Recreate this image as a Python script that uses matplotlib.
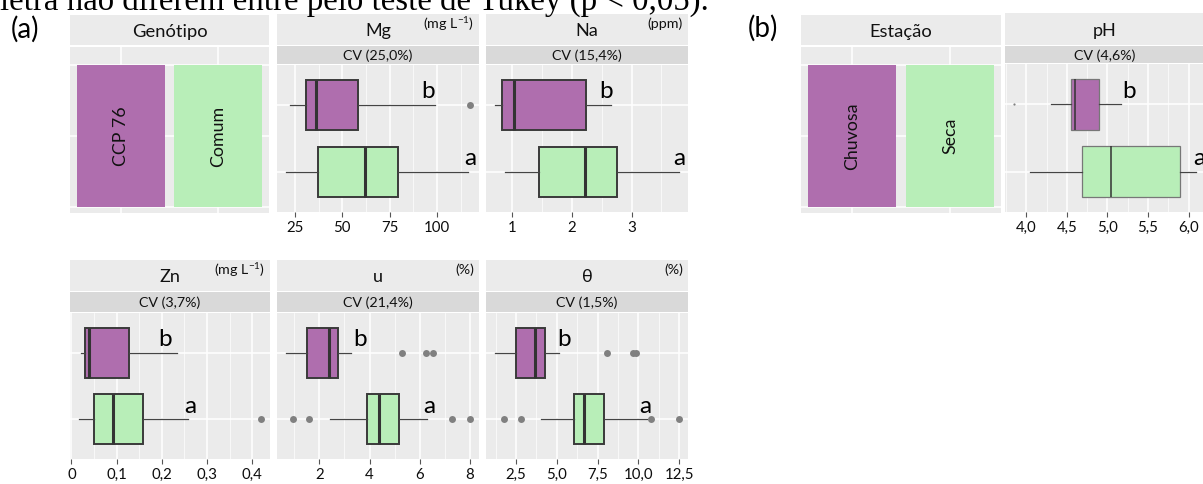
import matplotlib
matplotlib.use('Agg')
import matplotlib.pyplot as plt
from matplotlib.ticker import MultipleLocator, FuncFormatter

plt.rcParams['font.family'] = ['Lato', 'DejaVu Sans']
plt.rcParams['mathtext.fontset'] = 'custom'
plt.rcParams['mathtext.rm'] = 'Lato'
plt.rcParams['mathtext.default'] = 'regular'

# ---- data ----
genotipos = ['CCP 76', 'Comum']
estacoes = ['Chuvosa', 'Seca']
letras = ['b', 'a']

variaveis = ['Mg', 'Na', 'Zn', 'u', 'θ']
unidades = ['(mg L$^{-1}$)', '(ppm)', '(mg L$^{-1}$)', '(%)', '(%)']
cvs = ['CV (25,0%)', 'CV (15,4%)', 'CV (3,7%)', 'CV (21,4%)', 'CV (1,5%)']

# [whisker low, Q1, median, Q3, whisker high]
mg_ccp = [22.2, 30.7, 36.0, 58.5, 98.6]
mg_comum = [20.4, 37.4, 61.7, 79.1, 116.3]
mg_ccp_out = [117.2]
mg_comum_out = []

na_ccp = [0.72, 0.83, 1.04, 2.24, 2.65]
na_comum = [0.89, 1.46, 2.22, 2.75, 3.79]
na_ccp_out = []
na_comum_out = []

zn_ccp = [0.021, 0.030, 0.039, 0.128, 0.234]
zn_comum = [0.017, 0.050, 0.092, 0.159, 0.258]
zn_ccp_out = []
zn_comum_out = [0.419]

u_ccp = [0.68, 1.49, 2.40, 2.76, 3.25]
u_comum = [2.43, 3.90, 4.37, 5.17, 6.28]
u_ccp_out = [5.31, 6.25, 6.51]
u_comum_out = [0.95, 1.57, 7.29, 7.99]

theta_ccp = [1.22, 2.50, 3.69, 4.27, 5.13]
theta_comum = [4.00, 6.06, 6.68, 7.92, 10.55]
theta_ccp_out = [8.07, 9.68, 9.84]
theta_comum_out = [1.79, 2.81, 10.8, 12.48]

ph_chuvosa = [4.305, 4.55, 4.60, 4.89, 5.17]
ph_seca = [4.04, 4.69, 5.04, 5.90, 6.09]
ph_chuvosa_out = [3.85]
ph_seca_out = []

# where the Tukey letters sit on the value axis
letra_x = {'Mg': [95.2, 117.6], 'Na': [2.57, 3.80], 'Zn': [0.207, 0.262],
           'u': [3.61, 6.36], 'θ': [5.45, 10.40], 'pH': [5.27, 6.13]}
passos = {'Mg': 25, 'Na': 1, 'Zn': 0.1, 'u': 2, 'θ': 2.5, 'pH': 0.5}
decimais = {'Mg': None, 'Na': None, 'Zn': None, 'u': None, 'θ': 1, 'pH': 1}

roxo = '#AF6EAE'
verde = '#B8EEB8'
fundo = '#EBEBEB'
faixa = '#D9D9D9'

W, H = 1203, 484
fig = plt.figure(figsize=(W / 100, H / 100), dpi=100)


def px(x0, y0, x1, y1):
    return [x0 / W, 1 - y1 / H, (x1 - x0) / W, (y1 - y0) / H]


def limpa(ax):
    for s in ax.spines.values():
        s.set_visible(False)


def tira(x0, y0, x1, y1, cor, texto, tam, unidade=None):
    ax = fig.add_axes(px(x0, y0, x1, y1))
    ax.set_facecolor(cor)
    ax.set_xticks([])
    ax.set_yticks([])
    limpa(ax)
    ax.text(0.5, 0.45, texto, ha='center', va='center', fontsize=tam,
            color='#111111', transform=ax.transAxes)
    if unidade:
        ax.text(0.975, 0.68, unidade, ha='right', va='center', fontsize=10.3,
                color='#111111', transform=ax.transAxes)
    return ax


def estat(cinco, fora):
    lo, q1, med, q3, hi = cinco
    return dict(whislo=lo, q1=q1, med=med, q3=q3, whishi=hi, fliers=fora)


def fmt_num(nome):
    d = decimais[nome]
    def f(v, pos):
        s = ('{:.%df}' % d).format(v) if d else '{:g}'.format(round(v, 6))
        return s.replace('.', ',')
    return FuncFormatter(f)


def painel_box(cols, rows, nome, cv, unidade, dados, fora, fino=False):
    x0, x1 = cols
    yh0, yh1, yc1, yp1 = rows
    tira(x0, yh0, x1, yh1, fundo, nome, 13, unidade)
    tira(x0, yh1 + 1, x1, yc1, faixa, cv, 10.3)
    ax = fig.add_axes(px(x0, yc1 + 1, x1, yp1))
    ax.set_facecolor(fundo)
    limpa(ax)
    stats = [estat(d, f) for d, f in zip(dados, fora)]
    borda = '#777777' if fino else '#3a3a3a'
    bp = ax.bxp(stats, positions=[1, 2], orientation='horizontal', widths=0.75,
                patch_artist=True, showcaps=False,
                boxprops=dict(edgecolor=borda, linewidth=0.9 if fino else 1.4),
                medianprops=dict(color='#333333', linewidth=1.1 if fino else 2.2),
                whiskerprops=dict(color='#444444', linewidth=0.9),
                flierprops=dict(marker='o', markerfacecolor='#808080',
                                markeredgecolor='none',
                                markersize=1.6 if fino else 5))
    for patch, c in zip(bp['boxes'], [roxo, verde]):
        patch.set_facecolor(c)
    for lx, lv, yy in zip(letra_x[nome], letras, [1, 2]):
        ax.text(lx, yy - 0.1, lv, ha='center', va='baseline', fontsize=17.5,
                color='black')
    ax.set_ylim(2.6, 0.4)
    ax.set_yticks([1, 2])
    ax.set_yticklabels([])
    ax.tick_params(axis='y', length=0)
    ax.margins(x=0.05)
    ax.xaxis.set_major_locator(MultipleLocator(passos[nome]))
    ax.xaxis.set_minor_locator(MultipleLocator(passos[nome] / 2))
    ax.xaxis.set_major_formatter(fmt_num(nome))
    ax.tick_params(axis='x', which='major', length=3.5, width=0.8, color='#555555',
                   labelsize=10.8, labelcolor='#0d0d0d', pad=3)
    ax.tick_params(axis='x', which='minor', length=0)
    ax.grid(which='major', color='white', linewidth=1.1)
    ax.grid(which='minor', axis='x', color='white', linewidth=0.5)
    ax.set_axisbelow(True)
    return ax


def painel_cat(x0, x1, titulo, nomes):
    tira(x0, 15, x1, 45, fundo, titulo, 13.2)
    ax = fig.add_axes(px(x0, 47, x1, 213))
    ax.set_facecolor(fundo)
    limpa(ax)
    ax.bar([1, 2], [1, 1], width=0.9, color=[roxo, verde], zorder=2)
    for xx, n in zip([1, 2], nomes):
        ax.text(xx, 0.5, n, rotation=90, ha='center', va='center', fontsize=12.8,
                color='#111111', zorder=3)
    ax.set_xlim(0.48, 2.52)
    ax.set_ylim(-0.042, 1.127)
    ax.set_xticks([1, 2])
    ax.set_yticks([0, 0.5, 1])
    ax.set_xticklabels([])
    ax.set_yticklabels([])
    ax.tick_params(length=0)
    ax.grid(color='white', linewidth=1.1)
    ax.set_axisbelow(True)


# texto do documento, cortado no topo
fig.text(0.0, 1 - 10 / H, 'letra não diferem entre pelo teste de Tukey (p < 0,05).',
         family='Liberation Serif', fontsize=23.7, va='baseline', ha='left')

fig.text(25 / W, 1 - 29 / H, '(a)', fontsize=20, ha='center', va='center')
fig.text(763 / W, 1 - 28 / H, '(b)', fontsize=20, ha='center', va='center')

colunas = [(70, 270), (277, 479), (486, 688)]
linha1 = (14, 45, 64, 212)
linha2 = (260, 291, 312, 459)

painel_cat(70, 269, 'Genótipo', genotipos)
painel_box(colunas[1], linha1, 'Mg', cvs[0], unidades[0],
           [mg_ccp, mg_comum], [mg_ccp_out, mg_comum_out])
painel_box(colunas[2], linha1, 'Na', cvs[1], unidades[1],
           [na_ccp, na_comum], [na_ccp_out, na_comum_out])
painel_box(colunas[0], linha2, 'Zn', cvs[2], unidades[2],
           [zn_ccp, zn_comum], [zn_ccp_out, zn_comum_out])
painel_box(colunas[1], linha2, 'u', cvs[3], unidades[3],
           [u_ccp, u_comum], [u_ccp_out, u_comum_out])
painel_box(colunas[2], linha2, 'θ', cvs[4], unidades[4],
           [theta_ccp, theta_comum], [theta_ccp_out, theta_comum_out])

painel_cat(801, 1001, 'Estação', estacoes)
painel_box((1005, 1205), (13, 45, 63, 212), 'pH', 'CV (4,6%)', None,
           [ph_chuvosa, ph_seca], [ph_chuvosa_out, ph_seca_out], fino=True)

fig.savefig('out.png', dpi=100, facecolor='white')
